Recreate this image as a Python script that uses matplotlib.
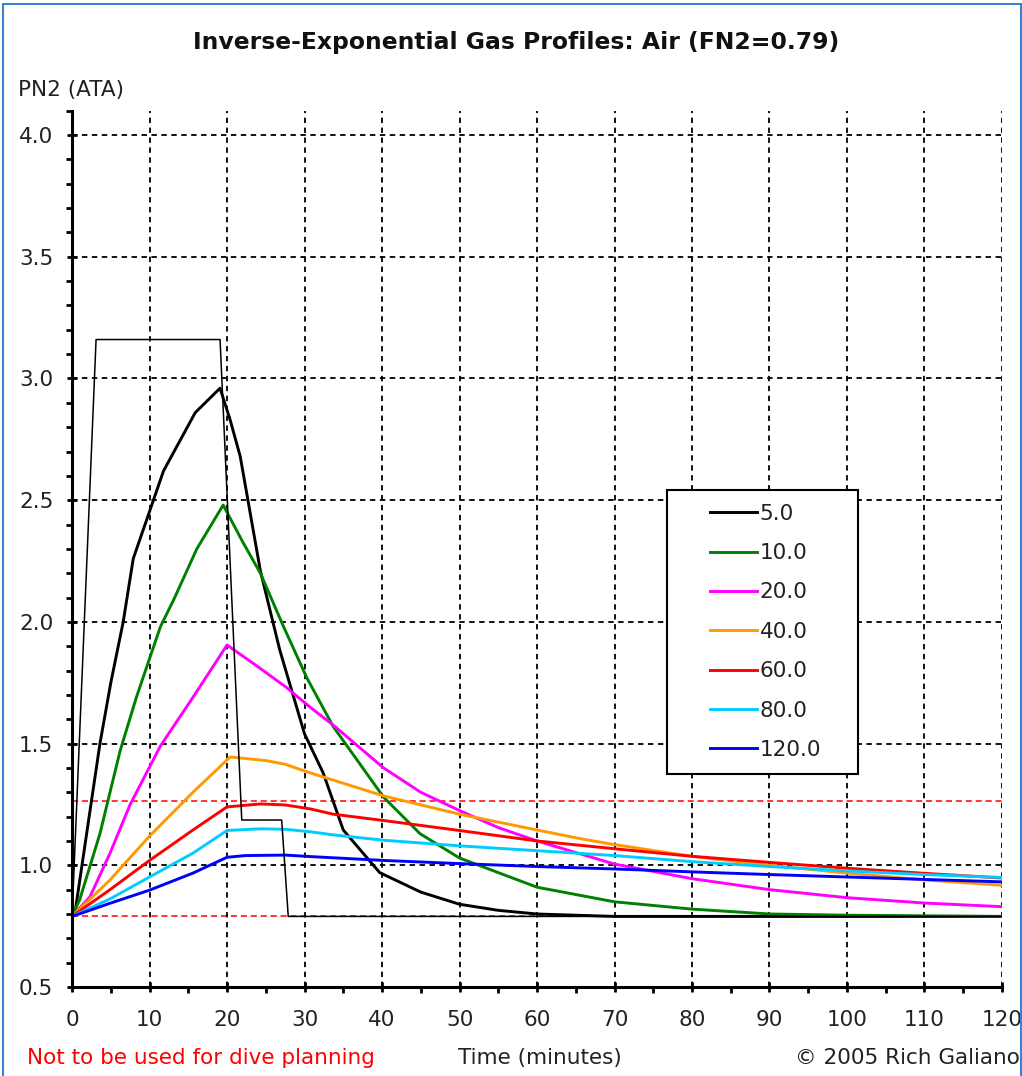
import matplotlib
matplotlib.use('Agg')
import matplotlib.pyplot as plt
from matplotlib.lines import Line2D
from matplotlib.legend_handler import HandlerLine2D
from matplotlib.patches import Rectangle
from matplotlib.ticker import MultipleLocator, FormatStrFormatter

plt.rcParams['font.family'] = ['DejaVu Sans']

# --- dados (tempo em minutos, PN2 em ATA) ---
time_profile = [0, 3.1, 19.1, 21.9, 27.05, 27.9, 120]
pn2_profile = [0.79, 3.16, 3.16, 1.186, 1.186, 0.79, 0.79]

time_5 = [0, 0.4, 2.3, 3.6, 5.0, 6.6, 7.9, 11.8, 15.9, 19.1, 20.4, 21.7, 24.3,
          26.8, 30.0, 32.4, 35.0, 39.7, 45.0, 50.0, 55.0, 60.0, 70.0, 80.0, 120.0]
pn2_5 = [0.79, 0.81, 1.22, 1.50, 1.75, 2.00, 2.26, 2.62, 2.86, 2.96, 2.83, 2.68, 2.21,
         1.885, 1.54, 1.38, 1.145, 0.97, 0.89, 0.84, 0.815, 0.80, 0.79, 0.79, 0.79]

time_10 = [0, 1.0, 3.6, 6.2, 8.3, 11.4, 13.1, 16.1, 19.5, 22.0, 24.3, 27.3, 30.3,
           33.7, 40.2, 44.9, 50, 55, 60, 70, 80, 90, 100, 120]
pn2_10 = [0.79, 0.86, 1.13, 1.47, 1.69, 1.98, 2.09, 2.30, 2.48, 2.33, 2.20, 1.98, 1.77,
          1.57, 1.28, 1.13, 1.03, 0.97, 0.91, 0.85, 0.82, 0.80, 0.795, 0.79]

time_20 = [0, 2.3, 4.9, 7.5, 11.4, 15.6, 20.0, 23.8, 27.7, 30.7, 33.7, 40.2, 45,
           50, 55, 60, 70, 80, 90, 100, 110, 120]
pn2_20 = [0.79, 0.87, 1.05, 1.25, 1.49, 1.69, 1.905, 1.82, 1.73, 1.65, 1.576, 1.40, 1.30,
          1.225, 1.155, 1.10, 1.005, 0.945, 0.90, 0.867, 0.845, 0.83]

time_40 = [0, 4.9, 10, 15.6, 20.4, 25.1, 27.5, 30.7, 33.7, 40.2, 50, 60, 65.5,
           70, 80, 90, 100, 110, 120]
pn2_40 = [0.79, 0.94, 1.12, 1.30, 1.445, 1.43, 1.415, 1.38, 1.35, 1.285, 1.21, 1.145, 1.11,
          1.085, 1.037, 1.0, 0.968, 0.94, 0.918]

time_60 = [0, 4.9, 10, 15.6, 20, 24.3, 27.5, 30.7, 33.7, 40.2, 50, 60, 70, 80,
           90, 100, 110, 120]
pn2_60 = [0.79, 0.90, 1.02, 1.145, 1.24, 1.252, 1.248, 1.232, 1.21, 1.184, 1.143, 1.10,
          1.068, 1.037, 1.012, 0.988, 0.967, 0.948]

time_80 = [0, 4.9, 10, 15.6, 20, 24.3, 27.5, 30.7, 33.7, 40.2, 50, 60, 70, 80,
           90, 100, 110, 120]
pn2_80 = [0.79, 0.862, 0.952, 1.05, 1.143, 1.15, 1.148, 1.138, 1.125, 1.103, 1.08, 1.06,
          1.04, 1.015, 0.995, 0.977, 0.962, 0.95]

time_120 = [0, 4.9, 10, 15.6, 20, 22.4, 27.5, 30.7, 40.2, 50, 60, 70, 80, 90,
            100, 110, 120]
pn2_120 = [0.79, 0.844, 0.898, 0.968, 1.033, 1.04, 1.042, 1.036, 1.02, 1.007, 0.995,
           0.985, 0.973, 0.962, 0.952, 0.942, 0.932]

half_times = ['5.0', '10.0', '20.0', '40.0', '60.0', '80.0', '120.0']
colors = ['black', '#008000', '#ff00ff', '#ff9900', '#ff0000', '#00ccff', '#0000ff']
series_t = [time_5, time_10, time_20, time_40, time_60, time_80, time_120]
series_p = [pn2_5, pn2_10, pn2_20, pn2_40, pn2_60, pn2_80, pn2_120]

ref_upper = 1.265
ref_lower = 0.79

FS = 15.5
TXT = '#222222'

# --- figura ---
fig = plt.figure(figsize=(10.22, 10.76), dpi=100)
ax = fig.add_axes([0.0705, 0.0827, 0.9099, 0.8144])

ax.axhline(ref_upper, color='red', lw=1.1, ls=(0, (4, 2.5)), zorder=1.5)
ax.axhline(ref_lower, color='red', lw=1.1, ls=(0, (4, 2.5)), zorder=1.5)

for t, p, c, lab in zip(series_t, series_p, colors, half_times):
    ax.plot(t, p, color=c, lw=2.1, label=lab, zorder=2)

ax.plot(time_profile, pn2_profile, color='black', lw=1.1, zorder=3)

ax.set_xlim(0, 120)
ax.set_ylim(0.5, 4.1)
ax.xaxis.set_major_locator(MultipleLocator(10))
ax.xaxis.set_minor_locator(MultipleLocator(5))
ax.yaxis.set_major_locator(MultipleLocator(0.5))
ax.yaxis.set_minor_locator(MultipleLocator(0.1))
ax.yaxis.set_major_formatter(FormatStrFormatter('%.1f'))

ax.grid(True, which='major', color='black', lw=1.3, ls=(0, (3, 2.5)), zorder=1)
ax.get_xgridlines()[-1].set_visible(False)

for s in ['top', 'right']:
    ax.spines[s].set_visible(False)
for s in ['left', 'bottom']:
    ax.spines[s].set_linewidth(2.2)
    ax.spines[s].set_zorder(4)

ax.tick_params(which='major', direction='inout', length=7, width=2, labelsize=FS,
               colors='black', labelcolor=TXT)
ax.tick_params(axis='x', which='major', pad=13)
ax.tick_params(axis='y', which='major', pad=10)
ax.tick_params(which='minor', direction='out', length=4, width=2)

# caixa da legenda: 2.54 .. 1.38 ATA, 75.6 .. 101.4 min
leg = ax.legend(loc='upper left', bbox_to_anchor=(0.6398, 0.2439, 0.2054, 0.3231),
                mode='expand', borderaxespad=0, fontsize=FS, frameon=True,
                fancybox=False, framealpha=1, edgecolor='black',
                handlelength=3.56, handletextpad=0.12, borderpad=0.63,
                labelspacing=0.9,
                handler_map={Line2D: HandlerLine2D(xpad=1.37)})
leg.get_frame().set_linewidth(1.5)
for txt in leg.get_texts():
    txt.set_color(TXT)

# --- textos ---
fig.text(0.505, 1 - 42 / 1076, 'Inverse-Exponential Gas Profiles: Air (FN2=0.79)',
         ha='center', va='center', fontsize=16.9, fontweight='bold', color='#111111')
fig.text(18 / 1022, 1 - 90 / 1076, 'PN2 (ATA)', ha='left', va='center',
         fontsize=FS, color=TXT)
fig.text(27 / 1022, 1 - 1058 / 1076, 'Not to be used for dive planning',
         ha='left', va='center', fontsize=FS, color='red')
fig.text(458 / 1022, 1 - 1058 / 1076, 'Time (minutes)', ha='left', va='center',
         fontsize=FS, color=TXT)
fig.text(1020 / 1022, 1 - 1058 / 1076, '\u00a9 2005 Rich Galiano', ha='right',
         va='center', fontsize=FS, color=TXT)

fig.patches.append(Rectangle((0.003, -0.01), 0.996, 1.006, transform=fig.transFigure,
                             fill=False, edgecolor='#3c7fd4', lw=1.5))

fig.savefig('out.png', dpi=100)
